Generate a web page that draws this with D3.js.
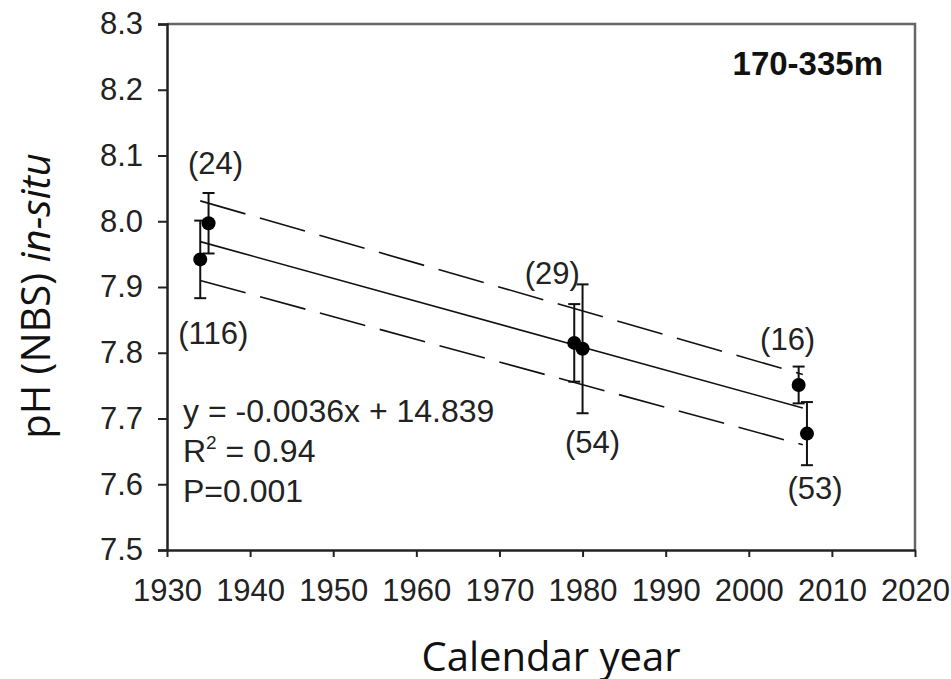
<!DOCTYPE html>
<html>
<head>
<meta charset="utf-8">
<script src="https://cdn.jsdelivr.net/npm/d3@7"></script>
<style>
  html, body { margin: 0; padding: 0; background: #fff; }
  svg { display: block; }
</style>
</head>
<body>
<svg id="chart" width="951" height="679"></svg>
<script>
// sample means (pH NBS in-situ) with error bars and n per survey
var years = [1934, 1935, 1979, 1980, 2006, 2007];
var phMean = [7.942, 7.997, 7.815, 7.806, 7.751, 7.677];
var phErr = [0.059, 0.046, 0.059, 0.098, 0.028, 0.048];
var nLabels = ["(116)", "(24)", "(29)", "(54)", "(16)", "(53)"];
var labelAbove = [false, true, true, false, true, false];

// regression line and confidence band, read at its two ends
var fitYears = [1934, 2006.5];
var fitPH = [7.969, 7.716];
var upperPH = [8.031, 7.767];
var lowerPH = [7.910, 7.660];

var xTicks = [1930, 1940, 1950, 1960, 1970, 1980, 1990, 2000, 2010, 2020];
var yTicks = [7.5, 7.6, 7.7, 7.8, 7.9, 8.0, 8.1, 8.2, 8.3];
var statLines = ["y = -0.0036x + 14.839", "R2 = 0.94", "P=0.001"];

// label nudges in px (layout only)
var labelDx = [13, 7, -22, 10, -11, 8];
var labelGap = [46, 19, 20, 40, 17, 34];

var chart = (function(api) {
  var svg = d3.select("#chart");
  var left = 167, right = 915, top = 24, bottom = 550;
  var tickFont = "'Liberation Sans', Arial, sans-serif";
  var titleFont = "'Open Sans', 'Noto Sans', sans-serif";

  var x = d3.scaleLinear().domain([1930, 2020]).range([left, right]);
  var y = d3.scaleLinear().domain([7.5, 8.3]).range([bottom, top]);

  // frame: grey top and right edges
  svg
    .append("path")
    .attr("d", "M" + left + "," + top + "H" + right + "V" + bottom)
    .attr("fill", "none")
    .attr("stroke", "#666")
    .attr("stroke-width", 2.5);

  var yAxis = svg
    .append("g")
    .attr("transform", "translate(" + left + ",0)")
    .call(
      d3
        .axisLeft(y)
        .tickValues(yTicks)
        .tickSize(9)
        .tickSizeOuter(9)
        .tickPadding(15)
        .tickFormat(d3.format(".1f"))
    );

  var xAxis = svg
    .append("g")
    .attr("transform", "translate(0," + bottom + ")")
    .call(
      d3
        .axisBottom(x)
        .tickValues(xTicks)
        .tickSize(7)
        .tickSizeOuter(0)
        .tickPadding(22)
        .tickFormat(d3.format("d"))
    );

  [xAxis, yAxis].forEach(function(g) {
    g.select(".domain").attr("stroke", "#222").attr("stroke-width", 2.5);
    g.selectAll(".tick line").attr("stroke", "#222").attr("stroke-width", 2);
    g.selectAll(".tick text")
      .attr("fill", "#222")
      .style("font-family", tickFont)
      .style("font-size", "31px");
  });

  // regression line with dashed confidence limits
  var line = d3
    .line()
    .x(function(d) { return x(d[0]); })
    .y(function(d) { return y(d[1]); });

  [
    { vals: fitPH, dash: null },
    { vals: upperPH, dash: "47,15" },
    { vals: lowerPH, dash: "47,15" }
  ].forEach(function(s) {
    svg
      .append("path")
      .datum(d3.zip(fitYears, s.vals))
      .attr("d", line)
      .attr("fill", "none")
      .attr("stroke", "#111")
      .attr("stroke-width", 1.6)
      .attr("stroke-dasharray", s.dash);
  });

  var pts = years.map(function(yr, i) {
    return {
      yr: yr, ph: phMean[i], err: phErr[i], n: nLabels[i],
      above: labelAbove[i], dx: labelDx[i], gap: labelGap[i]
    };
  });

  var bars = svg.append("g").attr("stroke", "#111").attr("stroke-width", 2);
  bars
    .selectAll("line.stem")
    .data(pts)
    .join("line")
    .attr("class", "stem")
    .attr("x1", function(d) { return x(d.yr); })
    .attr("x2", function(d) { return x(d.yr); })
    .attr("y1", function(d) { return y(d.ph + d.err); })
    .attr("y2", function(d) { return y(d.ph - d.err); });
  ["hi", "lo"].forEach(function(k) {
    bars
      .selectAll("line.cap-" + k)
      .data(pts)
      .join("line")
      .attr("class", "cap-" + k)
      .attr("x1", function(d) { return x(d.yr) - 6; })
      .attr("x2", function(d) { return x(d.yr) + 6; })
      .attr("y1", function(d) { return y(k == "hi" ? d.ph + d.err : d.ph - d.err); })
      .attr("y2", function(d) { return y(k == "hi" ? d.ph + d.err : d.ph - d.err); });
  });

  svg
    .append("g")
    .selectAll("circle")
    .data(pts)
    .join("circle")
    .attr("cx", function(d) { return x(d.yr); })
    .attr("cy", function(d) { return y(d.ph); })
    .attr("r", 7)
    .attr("fill", "#000");

  // n labels sit beyond the error bar ends
  svg
    .append("g")
    .selectAll("text")
    .data(pts)
    .join("text")
    .attr("x", function(d) { return x(d.yr) + d.dx; })
    .attr("y", function(d) {
      return d.above ? y(d.ph + d.err) - d.gap : y(d.ph - d.err) + d.gap;
    })
    .attr("text-anchor", "middle")
    .attr("fill", "#222")
    .style("font-family", tickFont)
    .style("font-size", "31px")
    .text(function(d) { return d.n; });

  var stats = svg
    .append("g")
    .attr("fill", "#222")
    .style("font-family", tickFont)
    .style("font-size", "32px");
  statLines.forEach(function(s, i) {
    var t = stats.append("text").attr("x", 183).attr("y", 422 + i * 40);
    if (s.indexOf("R2") == 0) {
      t.append("tspan").text("R");
      t.append("tspan").attr("dy", -13).style("font-size", "19px").text("2");
      t.append("tspan").attr("dy", 13).text(s.slice(2));
    } else {
      t.text(s);
    }
  });

  svg
    .append("text")
    .attr("x", 883)
    .attr("y", 75)
    .attr("text-anchor", "end")
    .attr("fill", "#111")
    .style("font-family", tickFont)
    .style("font-size", "33px")
    .style("font-weight", "bold")
    .text("170-335m");

  svg
    .append("text")
    .attr("x", 551)
    .attr("y", 671)
    .attr("text-anchor", "middle")
    .attr("fill", "#111")
    .style("font-family", titleFont)
    .style("font-size", "40px")
    .text("Calendar year");

  var yTitle = svg
    .append("text")
    .attr("transform", "translate(50,296) rotate(-90)")
    .attr("text-anchor", "middle")
    .attr("fill", "#111")
    .style("font-family", titleFont)
    .style("font-size", "40px");
  yTitle.append("tspan").text("pH (NBS) ");
  yTitle.append("tspan").style("font-style", "italic").text("in-situ");

  api.x = x;
  api.y = y;
  return api;
})({});
</script>
</body>
</html>
